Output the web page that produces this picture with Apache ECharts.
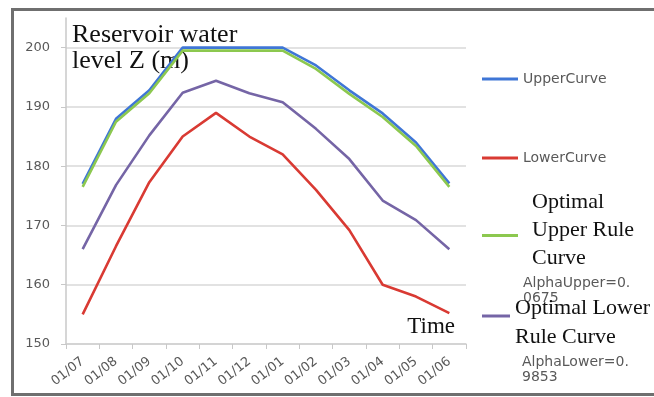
<!DOCTYPE html>
<html>
<head>
<meta charset="utf-8">
<script src="https://cdn.jsdelivr.net/npm/echarts@6/dist/echarts.min.js"></script>
<style>
html,body{margin:0;padding:0;background:#fff;}
#chart{width:654px;height:397px;}
</style>
</head>
<body>
<div id="chart"></div>
<script>
// ---- data ----
var categories = ['01/07','01/08','01/09','01/10','01/11','01/12','01/01','01/02','01/03','01/04','01/05','01/06'];
var upperCurve = [177, 188, 192.8, 200, 200, 200, 200, 197, 192.8, 188.9, 184, 177.1];
var lowerCurve = [155, 166.5, 177.3, 185, 189, 185, 182, 176, 169.2, 160, 158, 155.2];
var optimalUpper = [176.5, 187.5, 192.3, 199.5, 199.5, 199.5, 199.5, 196.4, 192.2, 188.3, 183.4, 176.5];
var optimalLower = [166, 176.8, 185.2, 192.4, 194.4, 192.3, 190.8, 186.3, 181.2, 174.2, 170.9, 166];
var yTicks = [150, 160, 170, 180, 190, 200];
var seriesNames = ['UpperCurve', 'LowerCurve', 'Optimal Upper Rule Curve', 'Optimal Lower Rule Curve'];
var alphaUpper = 'AlphaUpper=0.\n0675';
var alphaLower = 'AlphaLower=0.\n9853';

var colors = ['#3f76d6', '#d93a33', '#8cc84f', '#7565a6'];
var serif = '"Liberation Serif", "DejaVu Serif", serif';
var sans = '"DejaVu Sans", sans-serif';

var chart = echarts.init(document.getElementById('chart'), null, {renderer: 'canvas'});

function mkSeries(name, data, color) {
  return {
    name: name, type: 'line', data: data, symbol: 'none', smooth: false,
    lineStyle: {color: color, width: 2.6}, itemStyle: {color: color}
  };
}

var aU = alphaUpper.split('\n');
var aL = alphaLower.split('\n');

var option = {
  backgroundColor: '#ffffff',
  animation: false,
  color: colors,
  grid: {left: 66, right: 188, top: 18, bottom: 53, containLabel: false, outerBoundsMode: 'none'},
  xAxis: {
    type: 'category',
    data: categories,
    boundaryGap: true,
    name: 'Time',
    nameLocation: 'end',
    nameGap: -11,
    nameTextStyle: {fontFamily: serif, fontSize: 23, color: '#111', align: 'right', verticalAlign: 'bottom', lineHeight: 24, padding: [0, 0, 5, 0]},
    axisLine: {lineStyle: {color: '#d0d0d0', width: 1.5}},
    axisTick: {show: true, length: 5, alignWithLabel: false, lineStyle: {color: '#c8c8c8'}},
    axisLabel: {rotate: 38, margin: 16, fontFamily: sans, fontSize: 13, color: '#595959', interval: 0}
  },
  yAxis: {
    type: 'value',
    min: 150, max: 205, interval: 10,
    name: 'Reservoir water\nlevel Z (m)',
    nameLocation: 'end',
    nameGap: -4,
    nameTextStyle: {fontFamily: serif, fontSize: 26, color: '#111', align: 'left', verticalAlign: 'top', lineHeight: 26, padding: [0, 0, 0, 6]},
    axisLine: {show: true, lineStyle: {color: '#c8c8c8', width: 1.5}},
    axisTick: {show: true, length: 5, customValues: yTicks, lineStyle: {color: '#c8c8c8'}},
    axisLabel: {customValues: yTicks, margin: 16, fontFamily: sans, fontSize: 13, color: '#595959'},
    splitLine: {show: true, lineStyle: {color: ['#d9d9d9','#d9d9d9','#d9d9d9','#d9d9d9','#d9d9d9','#d9d9d9','rgba(0,0,0,0)'], width: 1.5}}
  },
  legend: [
    {
      data: [seriesNames[0]], left: 482, top: 71, padding: 0, orient: 'vertical',
      icon: 'rect', itemWidth: 36, itemHeight: 3,
      textStyle: {fontFamily: sans, fontSize: 14, color: '#595959', lineHeight: 16}
    },
    {
      data: [seriesNames[1]], left: 482, top: 150, padding: 0, orient: 'vertical',
      icon: 'rect', itemWidth: 36, itemHeight: 3,
      textStyle: {fontFamily: sans, fontSize: 14, color: '#595959', lineHeight: 16}
    },
    {
      data: [seriesNames[2]], left: 482, top: 176, padding: 0, orient: 'vertical',
      icon: 'rect', itemWidth: 36, itemHeight: 3,
      formatter: function () {
        return '{g| }\n{s|Optimal}\n{s|Upper Rule}\n{s|Curve}\n{h| }\n{a|' + aU[0] + '}\n{a|' + aU[1] + '}';
      },
      textStyle: {
        rich: {
          g: {fontSize: 1, lineHeight: 23},
          h: {fontSize: 1, lineHeight: 4},
          s: {fontFamily: serif, fontSize: 22, color: '#111', lineHeight: 28, padding: [0, 0, 0, 9]},
          a: {fontFamily: sans, fontSize: 14, color: '#595959', lineHeight: 15}
        }
      }
    },
    {
      data: [seriesNames[3]], left: 482, top: 270, padding: 0, orient: 'vertical',
      icon: 'rect', itemWidth: 28, itemHeight: 3,
      formatter: function () {
        return '{g| }\n{s|Optimal Lower}\n{s|Rule Curve}\n{h| }\n{a|' + aL[0] + '}\n{a|' + aL[1] + '}';
      },
      textStyle: {
        rich: {
          g: {fontSize: 1, lineHeight: 47},
          h: {fontSize: 1, lineHeight: 3},
          s: {fontFamily: serif, fontSize: 22, color: '#111', lineHeight: 29},
          a: {fontFamily: sans, fontSize: 14, color: '#595959', lineHeight: 15, padding: [0, 0, 0, 7]}
        }
      }
    }
  ],
  graphic: [
    {
      type: 'rect', left: 10, top: 7, z: 100, silent: true,
      shape: {x: 0, y: 0, width: 700, height: 385},
      style: {fill: null, stroke: '#6f6f6f', lineWidth: 3}
    }
  ],
  series: [
    mkSeries(seriesNames[0], upperCurve, colors[0]),
    mkSeries(seriesNames[1], lowerCurve, colors[1]),
    mkSeries(seriesNames[2], optimalUpper, colors[2]),
    mkSeries(seriesNames[3], optimalLower, colors[3])
  ]
};
chart.setOption(option);
</script>
</body>
</html>
